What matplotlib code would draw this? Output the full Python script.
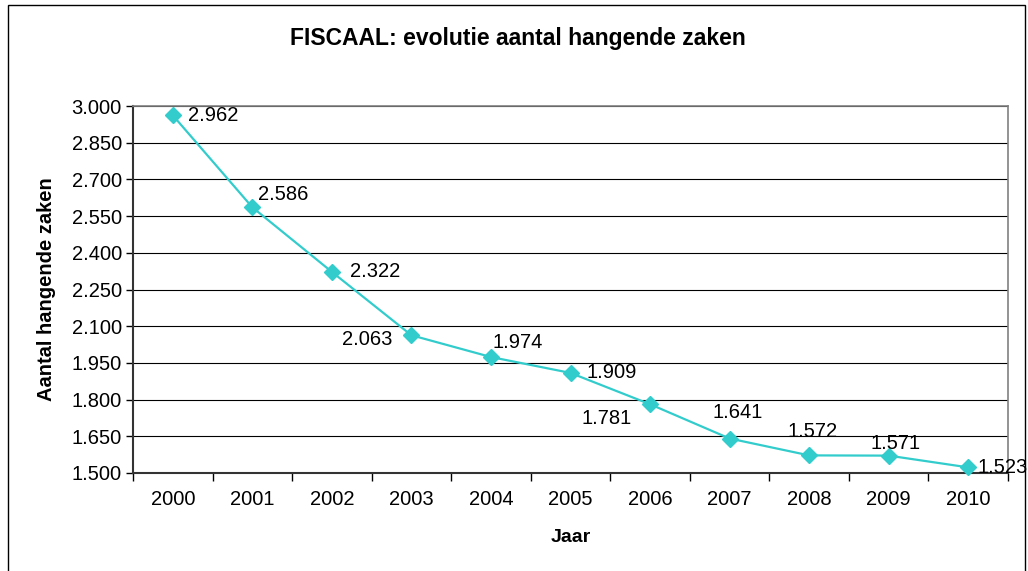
import matplotlib
matplotlib.use("Agg")
import matplotlib.pyplot as plt
from matplotlib.patches import Rectangle
from matplotlib.ticker import FuncFormatter, MultipleLocator

plt.rcParams['font.family'] = ['Liberation Sans', 'DejaVu Sans']

years = ['2000', '2001', '2002', '2003', '2004', '2005', '2006', '2007', '2008', '2009', '2010']
values = [2962, 2586, 2322, 2063, 1974, 1909, 1781, 1641, 1572, 1571, 1523]
# label offsets (pixels) and alignment per point
label_offsets = [(15, 0, 'left'), (6, 13, 'left'), (18, 0, 'left'), (-19, -4, 'right'),
                 (2, 15, 'left'), (16, 0, 'left'), (-18, -14, 'right'), (-17, 26, 'left'),
                 (-22, 24, 'left'), (-18, 12, 'left'), (9, 0, 'left')]

W, H, DPI = 1028, 571, 100
fig = plt.figure(figsize=(W / DPI, H / DPI), dpi=DPI)
fig.patch.set_facecolor('white')

# chart border
fig.add_artist(Rectangle((8 / W, -0.05), (1025 - 8) / W, 1.05 - 5 / H,
                         transform=fig.transFigure, fill=False,
                         edgecolor='black', linewidth=1.0))

left, right, top, bottom = 133, 1008, 106, 473
ax = fig.add_axes([left / W, 1 - bottom / H, (right - left) / W, (bottom - top) / H])

x = list(range(len(years)))
ax.plot(x, values, color='#33CCCC', linewidth=1.6, marker='D', markersize=8,
        markerfacecolor='#33CCCC', markeredgecolor='#33CCCC', zorder=3, clip_on=False)

ax.set_xlim(-0.5, len(years) - 0.5)
ax.set_ylim(1500, 3000)
ax.yaxis.set_major_locator(MultipleLocator(150))
ax.yaxis.set_major_formatter(FuncFormatter(lambda v, p: f"{int(v):,}".replace(',', '.')))
ax.set_xticks(x)
ax.set_xticklabels(years)
ax.set_xticks([i - 0.5 for i in range(len(years) + 1)], minor=True)
ax.tick_params(axis='x', which='major', length=0, pad=12, labelsize=14.5)
ax.tick_params(axis='x', which='minor', length=6, color='black', width=1)
ax.tick_params(axis='y', length=5, width=1, labelsize=14.5, pad=3)

ax.grid(axis='y', color='black', linewidth=0.8)
ax.set_axisbelow(True)
for s in ['top', 'right']:
    ax.spines[s].set_color('#808080')
    ax.spines[s].set_linewidth(1.2)
for s in ['left', 'bottom']:
    ax.spines[s].set_color('#333333')
    ax.spines[s].set_linewidth(1.5)

for xi, v, (dx, dy, ha) in zip(x, values, label_offsets):
    ax.annotate(f"{v:,}".replace(',', '.'), (xi, v), xytext=(dx, dy),
                textcoords='offset pixels', ha=ha, va='center', fontsize=14.5,
                annotation_clip=False, zorder=4)

ax.set_xlabel('Jaar', fontsize=14, fontweight='bold', labelpad=15)
ax.set_ylabel('Aantal hangende zaken', fontsize=14.5, fontweight='bold', labelpad=11)
fig.text(518 / W, 1 - 38 / H, 'FISCAAL: evolutie aantal hangende zaken',
         ha='center', va='center', fontsize=16.5, fontweight='bold')

fig.savefig('out.png', dpi=DPI)
